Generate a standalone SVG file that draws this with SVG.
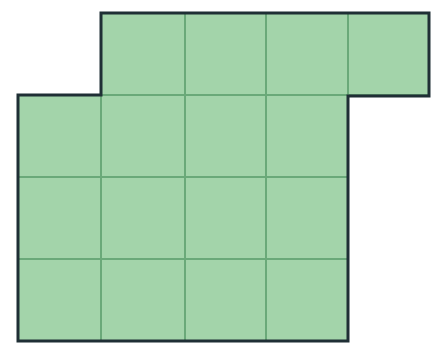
<svg xmlns="http://www.w3.org/2000/svg" width="435" height="344" viewBox="0 0 435 344">
<style>
.cell{fill:#a3d4aa;stroke:#6aa979;stroke-width:2}
.outline{fill:none;stroke:#1f2f35;stroke-width:3;stroke-linejoin:miter}
</style>
<rect width="435" height="344" fill="#ffffff"/>
<g id="cells">
<rect class="cell" x="101" y="13" width="84" height="82"/>
<rect class="cell" x="185" y="13" width="81" height="82"/>
<rect class="cell" x="266" y="13" width="82" height="82"/>
<rect class="cell" x="348" y="13" width="81" height="82"/>
<rect class="cell" x="18" y="95" width="83" height="82"/>
<rect class="cell" x="101" y="95" width="84" height="82"/>
<rect class="cell" x="185" y="95" width="81" height="82"/>
<rect class="cell" x="266" y="95" width="82" height="82"/>
<rect class="cell" x="18" y="177" width="83" height="82"/>
<rect class="cell" x="101" y="177" width="84" height="82"/>
<rect class="cell" x="185" y="177" width="81" height="82"/>
<rect class="cell" x="266" y="177" width="82" height="82"/>
<rect class="cell" x="18" y="259" width="83" height="82"/>
<rect class="cell" x="101" y="259" width="84" height="82"/>
<rect class="cell" x="185" y="259" width="81" height="82"/>
<rect class="cell" x="266" y="259" width="82" height="82"/>
</g>
<g id="outline">
<path class="outline" d="M101 13 H429 V96 H348 V341 H18 V95 H101 Z"/>
</g>
</svg>
